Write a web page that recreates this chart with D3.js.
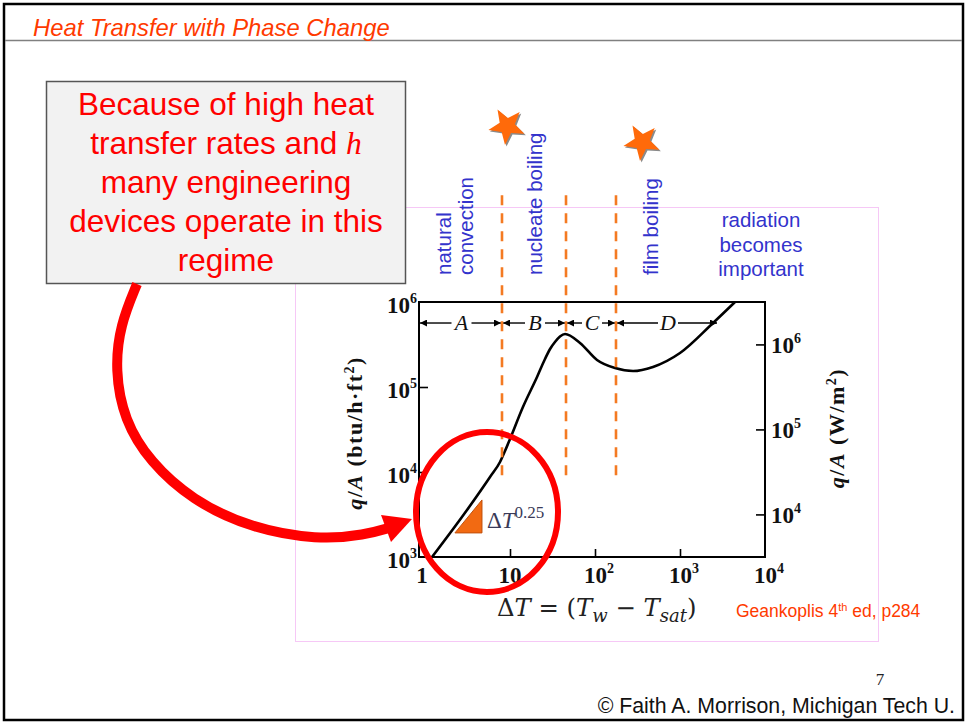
<!DOCTYPE html>
<html>
<head>
<meta charset="utf-8">
<script src="https://cdn.jsdelivr.net/npm/d3@7"></script>
<style>
  html, body { margin: 0; padding: 0; background: #ffffff; }
  svg { display: block; }
</style>
</head>
<body>
<svg id="chart" width="968" height="723"></svg>
<script>
// ---------------- DATA ----------------
// Boiling curve: wall superheat ΔT (°F) vs heat flux q/A (btu/h·ft²)
const deltaT = [1.21, 3.12, 5.82, 7.63, 8.73, 10, 14.2, 20.8, 25.8, 29.6, 33.8, 38.7, 44.4, 66.6, 105.6, 172, 280, 481, 1000, 2445, 4440];
const heatFlux = [1000, 3570, 8730, 13120, 17660, 24440, 58200, 131000, 213500, 280000, 338000, 392500, 421000, 330000, 208000, 167000, 154000, 172000, 251000, 566000, 1000000];

// Regime boundaries (ΔT) and regime labels
const regimeBounds = [0.85, 8.05, 45.6, 176.6, 2800];
const regimeLabels = ["A", "B", "C", "D"];
const regimeArrowFlux = 566000;
const dividerBounds = [8.05, 45.6, 176.6];
const dividerFluxRange = [8700, 1.8e7];

// Axis ticks
const xTickValues = [10, 100, 1000];
const xTickLabels = [
  { v: 1, base: "1", exp: "" },
  { v: 10, base: "10", exp: "" },
  { v: 100, base: "10", exp: "2" },
  { v: 1000, base: "10", exp: "3" },
  { v: 10000, base: "10", exp: "4" }
];
const yTickValues = [1e4, 1e5];
const yTickLabels = [
  { v: 1e3, exp: "3" }, { v: 1e4, exp: "4" }, { v: 1e5, exp: "5" }, { v: 1e6, exp: "6" }
];
const wTickValues = [1e4, 1e5, 1e6];
const wTickLabels = [
  { v: 1e4, exp: "4" }, { v: 1e5, exp: "5" }, { v: 1e6, exp: "6" }
];
const BTU_TO_W = 3.1546;

// Slope indicator triangle (ΔT^0.25)
const slopeTriX = [2.25, 4.68];
const slopeTriY = [1920, 4690];

// Texts
const calloutLines = ["Because of high heat", "transfer rates and ", "many engineering", "devices operate in this", "regime"];

// ---------------- SCALES ----------------
const svg = d3.select("#chart");
const x = d3.scaleLog().domain([0.85, 1e4]).range([419, 765]);
const y = d3.scaleLog().domain([1e3, 1e6]).range([557, 302]);
const yW = d3.scaleLog().domain([1e3 * BTU_TO_W, 1e6 * BTU_TO_W]).range([557, 302]);

// ---------------- SLIDE FRAME ----------------
svg.append("rect").attr("x", 4).attr("y", 4).attr("width", 959).attr("height", 716)
  .attr("fill", "#fff").attr("stroke", "#000").attr("stroke-width", 2.5);
svg.append("line").attr("x1", 5).attr("x2", 962).attr("y1", 40.5).attr("y2", 40.5)
  .attr("stroke", "#808080").attr("stroke-width", 1.5);
svg.append("text").attr("x", 33).attr("y", 36)
  .attr("font-family", "Liberation Sans, Arial, sans-serif").attr("font-style", "italic")
  .attr("font-size", 23.8).attr("fill", "#ff3a00").text("Heat Transfer with Phase Change");

// pink image frame
svg.append("rect").attr("x", 295.5).attr("y", 207.5).attr("width", 583).attr("height", 434)
  .attr("fill", "none").attr("stroke", "#f6c8f6").attr("stroke-width", 1);

// ---------------- PLOT ----------------
const g = svg.append("g");
// box
g.append("rect").attr("x", x.range()[0]).attr("y", y.range()[1])
  .attr("width", x.range()[1] - x.range()[0]).attr("height", y.range()[0] - y.range()[1])
  .attr("fill", "none").attr("stroke", "#000").attr("stroke-width", 2);

// inward ticks using d3 axes
const axB = g.append("g").attr("transform", `translate(0,${y.range()[0]})`)
  .call(d3.axisBottom(x).tickValues(xTickValues).tickSize(-8).tickFormat(""));
const axL = g.append("g").attr("transform", `translate(${x.range()[0]},0)`)
  .call(d3.axisLeft(y).tickValues(yTickValues).tickSize(-9).tickFormat(""));
const axR = g.append("g").attr("transform", `translate(${x.range()[1]},0)`)
  .call(d3.axisRight(yW).tickValues(wTickValues).tickSize(-9).tickFormat(""));
[axB, axL, axR].forEach(a => {
  a.select(".domain").remove();
  a.selectAll(".tick line").attr("stroke", "#000").attr("stroke-width", 1.6);
});

const tickFont = "Liberation Serif, Times New Roman, serif";
const tickSize = 23, supSize = 14;
// bottom labels
xTickLabels.forEach(d => {
  const t = g.append("text").attr("x", x(d.v) + (d.exp ? 4 : 0) + (d.v === 1 ? -3 : 0)).attr("y", 583)
    .attr("text-anchor", "middle").attr("font-family", tickFont).attr("font-weight", "bold")
    .attr("font-size", tickSize).attr("fill", "#111");
  t.append("tspan").text(d.base);
  if (d.exp) t.append("tspan").attr("font-size", supSize).attr("dy", -10).text(d.exp);
});
// left labels
yTickLabels.forEach(d => {
  const t = g.append("text").attr("x", 417).attr("y", y(d.v) + 11)
    .attr("text-anchor", "end").attr("font-family", tickFont).attr("font-weight", "bold")
    .attr("font-size", tickSize).attr("fill", "#111");
  t.append("tspan").text("10");
  t.append("tspan").attr("font-size", supSize).attr("dy", -10).text(d.exp);
});
// right labels
wTickLabels.forEach(d => {
  const t = g.append("text").attr("x", 771).attr("y", yW(d.v) + 9)
    .attr("text-anchor", "start").attr("font-family", tickFont).attr("font-weight", "bold")
    .attr("font-size", tickSize).attr("fill", "#111");
  t.append("tspan").text("10");
  t.append("tspan").attr("font-size", supSize).attr("dy", -10).text(d.exp);
});

// axis titles
function axisTitle(tx, ty, unit) {
  const t = g.append("text").attr("transform", `translate(${tx},${ty}) rotate(-90)`)
    .attr("text-anchor", "middle").attr("font-family", tickFont).attr("font-weight", "bold")
    .attr("font-size", 22).attr("letter-spacing", 1.5).attr("fill", "#111");
  t.append("tspan").attr("font-style", "italic").text("q");
  t.append("tspan").text("/");
  t.append("tspan").attr("font-style", "italic").text("A");
  t.append("tspan").text(" (" + unit);
  t.append("tspan").attr("font-size", 14).attr("dy", -8).text("2");
  t.append("tspan").attr("dy", 8).text(")");
}
axisTitle(362, 433, "btu/h\u00b7ft");
axisTitle(844, 428, "W/m");

// regime arrows
const defs = svg.append("defs");
defs.append("marker").attr("id", "ah").attr("viewBox", "0 0 10 10").attr("refX", 10).attr("refY", 5)
  .attr("markerWidth", 9).attr("markerHeight", 7).attr("markerUnits", "userSpaceOnUse")
  .attr("orient", "auto")
  .append("path").attr("d", "M0,0 L10,5 L0,10 z").attr("fill", "#000");
const ra = y(regimeArrowFlux);
regimeLabels.forEach((lab, i) => {
  const x0 = x(regimeBounds[i]), x1 = x(regimeBounds[i + 1]);
  const cx = (x0 + x1) / 2 + 1;
  g.append("line").attr("x1", cx - 10).attr("x2", x0 + 1).attr("y1", ra).attr("y2", ra)
    .attr("stroke", "#000").attr("stroke-width", 1.4).attr("marker-end", "url(#ah)");
  g.append("line").attr("x1", cx + 10).attr("x2", x1 - 1).attr("y1", ra).attr("y2", ra)
    .attr("stroke", "#000").attr("stroke-width", 1.4).attr("marker-end", "url(#ah)");
  g.append("text").attr("x", cx).attr("y", ra + 7).attr("text-anchor", "middle")
    .attr("font-family", tickFont).attr("font-style", "italic").attr("font-size", 22)
    .attr("fill", "#111").text(lab);
});

// boiling curve
const pts = deltaT.map((d, i) => [d, heatFlux[i]]);
g.append("path").datum(pts)
  .attr("d", d3.line().x(d => x(d[0])).y(d => y(d[1])).curve(d3.curveMonotoneX))
  .attr("fill", "none").attr("stroke", "#000").attr("stroke-width", 2.6);

// slope triangle
g.append("path")
  .attr("d", `M${x(slopeTriX[0])},${y(slopeTriY[0])} L${x(slopeTriX[1])},${y(slopeTriY[1])} L${x(slopeTriX[1])},${y(slopeTriY[0])} Z`)
  .attr("fill", "#f26a12").attr("stroke", "#c0500c").attr("stroke-width", 1);
const st = g.append("text").attr("x", x(slopeTriX[1]) + 5).attr("y", y(slopeTriY[0]) - 5)
  .attr("font-family", tickFont).attr("font-size", 23).attr("fill", "#3a3a58");
st.append("tspan").text("\u0394");
st.append("tspan").attr("font-style", "italic").text("T");
st.append("tspan").attr("font-size", 17).attr("dy", -10).text("0.25");

// orange dashed dividers
dividerBounds.forEach(b => {
  g.append("line").attr("x1", x(b)).attr("x2", x(b))
    .attr("y1", y(dividerFluxRange[1])).attr("y2", y(dividerFluxRange[0]))
    .attr("stroke", "#f47a22").attr("stroke-width", 2.6).attr("stroke-dasharray", "10,8");
});

// regime names (blue)
const blue = "#3333cc";
const sans = "Liberation Sans, Arial, sans-serif";
function vtext(cx, lines, dx) {
  lines.forEach((s, i) => {
    g.append("text").attr("transform", `translate(${cx + i * dx},275) rotate(-90)`)
      .attr("dominant-baseline", "central").attr("font-family", sans).attr("font-size", 20.5)
      .attr("fill", blue).text(s);
  });
}
vtext(443, ["natural", "convection"], 22);
vtext(534, ["nucleate boiling"], 0);
vtext(650, ["film boiling"], 0);
["radiation", "becomes", "important"].forEach((s, i) => {
  g.append("text").attr("x", 761).attr("y", 227 + i * 24.5).attr("text-anchor", "middle")
    .attr("font-family", sans).attr("font-size", 20.5).attr("fill", blue).text(s);
});

// stars
function starPts(cx, cy, R, r, rotDeg) {
  const p = [];
  for (let k = 0; k < 10; k++) {
    const a = (rotDeg - 90 + k * 36) * Math.PI / 180;
    const rr = k % 2 === 0 ? R : r;
    p.push([cx + rr * Math.cos(a), cy + rr * Math.sin(a)]);
  }
  return "M" + p.map(q => q.join(",")).join("L") + "Z";
}
[[507, 126, -30], [642, 142, -30]].forEach(s => {
  svg.append("path").attr("d", starPts(s[0] + 1.5, s[1] + 1.5, 19, 8, s[2])).attr("fill", "#8a8a8a");
  svg.append("path").attr("d", starPts(s[0], s[1], 19, 8, s[2])).attr("fill", "#ff6a0a");
});

// x axis title
const mathFont = "DejaVu Serif, serif";
const xt = svg.append("text").attr("x", 497).attr("y", 616)
  .attr("font-family", mathFont).attr("font-size", 24.3).attr("fill", "#222");
xt.append("tspan").text("\u0394");
xt.append("tspan").attr("font-style", "italic").text("T");
xt.append("tspan").text(" = (");
xt.append("tspan").attr("font-style", "italic").text("T");
xt.append("tspan").attr("font-style", "italic").attr("font-size", 18).attr("dy", 6).text("w");
xt.append("tspan").attr("dy", -6).text(" \u2212 ");
xt.append("tspan").attr("font-style", "italic").text("T");
xt.append("tspan").attr("font-style", "italic").attr("font-size", 18).attr("dy", 6).text("sat");
xt.append("tspan").attr("dy", -6).text(")");

// citation
const ct = svg.append("text").attr("x", 736).attr("y", 617)
  .attr("font-family", sans).attr("font-size", 17.5).attr("fill", "#ff3a00");
ct.append("tspan").text("Geankoplis  4");
ct.append("tspan").attr("font-size", 11).attr("dy", -6).text("th");
ct.append("tspan").attr("dy", 6).text(" ed, p284");

// callout box
svg.append("rect").attr("x", 46.5).attr("y", 81.5).attr("width", 359).attr("height", 202)
  .attr("fill", "#f2f2f2").attr("stroke", "#555").attr("stroke-width", 1.5);
calloutLines.forEach((s, i) => {
  const t = svg.append("text").attr("x", 226).attr("y", 115 + i * 39).attr("text-anchor", "middle")
    .attr("font-family", sans).attr("font-size", 31.5).attr("fill", "#ff0000");
  t.append("tspan").text(s);
  if (i === 1) t.append("tspan").attr("font-family", tickFont).attr("font-style", "italic").text("h");
});

// red curved arrow
const arrowPts = [[137, 284], [120, 325], [115, 370], [124, 420], [150, 462], [192, 500], [250, 528], [318, 540], [365, 535], [392, 527]];
svg.append("path").datum(arrowPts)
  .attr("d", d3.line().curve(d3.curveBasis))
  .attr("fill", "none").attr("stroke", "#ff0000").attr("stroke-width", 10);
svg.append("path").attr("d", "M412,519 L381,515 L391,542 Z").attr("fill", "#ff0000");

// red ellipse
svg.append("ellipse").attr("cx", 487).attr("cy", 512).attr("rx", 71).attr("ry", 80)
  .attr("fill", "none").attr("stroke", "#ff0000").attr("stroke-width", 6);

// footer
svg.append("text").attr("x", 880).attr("y", 685).attr("text-anchor", "middle")
  .attr("font-family", tickFont).attr("font-size", 17).attr("fill", "#222").text("7");
svg.append("text").attr("x", 955).attr("y", 713).attr("text-anchor", "end")
  .attr("font-family", sans).attr("font-size", 21.3).attr("fill", "#111")
  .text("\u00a9 Faith A. Morrison, Michigan Tech U.");
</script>
</body>
</html>
